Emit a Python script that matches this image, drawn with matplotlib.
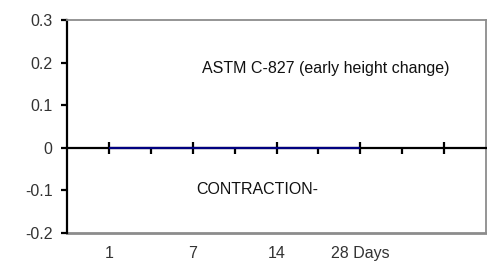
import matplotlib
matplotlib.use("Agg")
import matplotlib.pyplot as plt
import matplotlib.transforms as mtransforms

plt.rcParams['font.family'] = ['Liberation Sans', 'DejaVu Sans']

categories = ["1", "7", "14", "28 Days", ""]
values = [0, 0, 0, 0]
yticks = [-0.2, -0.1, 0, 0.1, 0.2, 0.3]
ytick_labels = ["-0.2", "-0.1", "0", "0.1", "0.2", "0.3"]

fig = plt.figure(figsize=(4.87, 2.66), dpi=100)
ax = fig.add_axes([0.1376, 0.124, 0.8604, 0.801])

pos = list(range(1, len(categories) + 1))
ax.set_xlim(0.5, len(categories) + 0.5)
ax.set_ylim(-0.2, 0.3)

ax.plot(pos[:len(values)], values, color='#000080', lw=1.6, zorder=5, solid_capstyle='butt')

# frame
for s in ['top', 'right']:
    ax.spines[s].set_color('#8c8c8c')
    ax.spines[s].set_linewidth(1.3)
ax.spines['left'].set_color('black')
ax.spines['left'].set_linewidth(1.6)
ax.spines['bottom'].set_position(('data', 0))
ax.spines['bottom'].set_color('black')
ax.spines['bottom'].set_linewidth(1.6)
ax.axhline(-0.2, color='#8c8c8c', lw=2.0, clip_on=False)

fs = 11.5
ax.set_yticks(yticks)
ax.set_yticklabels(ytick_labels, fontsize=fs, color='#333333')
ax.tick_params(axis='y', direction='out', length=4.3, width=1.6, pad=6)

ax.set_xticks(pos)
ax.set_xticks([p + 0.5 for p in pos[:-1]], minor=True)
ax.tick_params(axis='x', which='major', direction='inout', length=8, width=1.6, labelbottom=False)
ax.tick_params(axis='x', which='minor', direction='out', length=4, width=1.6, labelbottom=False)

trans = mtransforms.blended_transform_factory(ax.transData, ax.transAxes)
for p, lab in zip(pos, categories):
    ax.text(p, -0.094, lab, transform=trans, ha='center', va='center', fontsize=fs, color='#333333')

ax.text(2.107, 0.187, "ASTM C-827 (early height change)", ha='left', va='center', fontsize=fs, color='#111111')
ax.text(2.048, -0.097, "CONTRACTION-", ha='left', va='center', fontsize=fs, color='#111111')

fig.savefig("out.png", dpi=100)
